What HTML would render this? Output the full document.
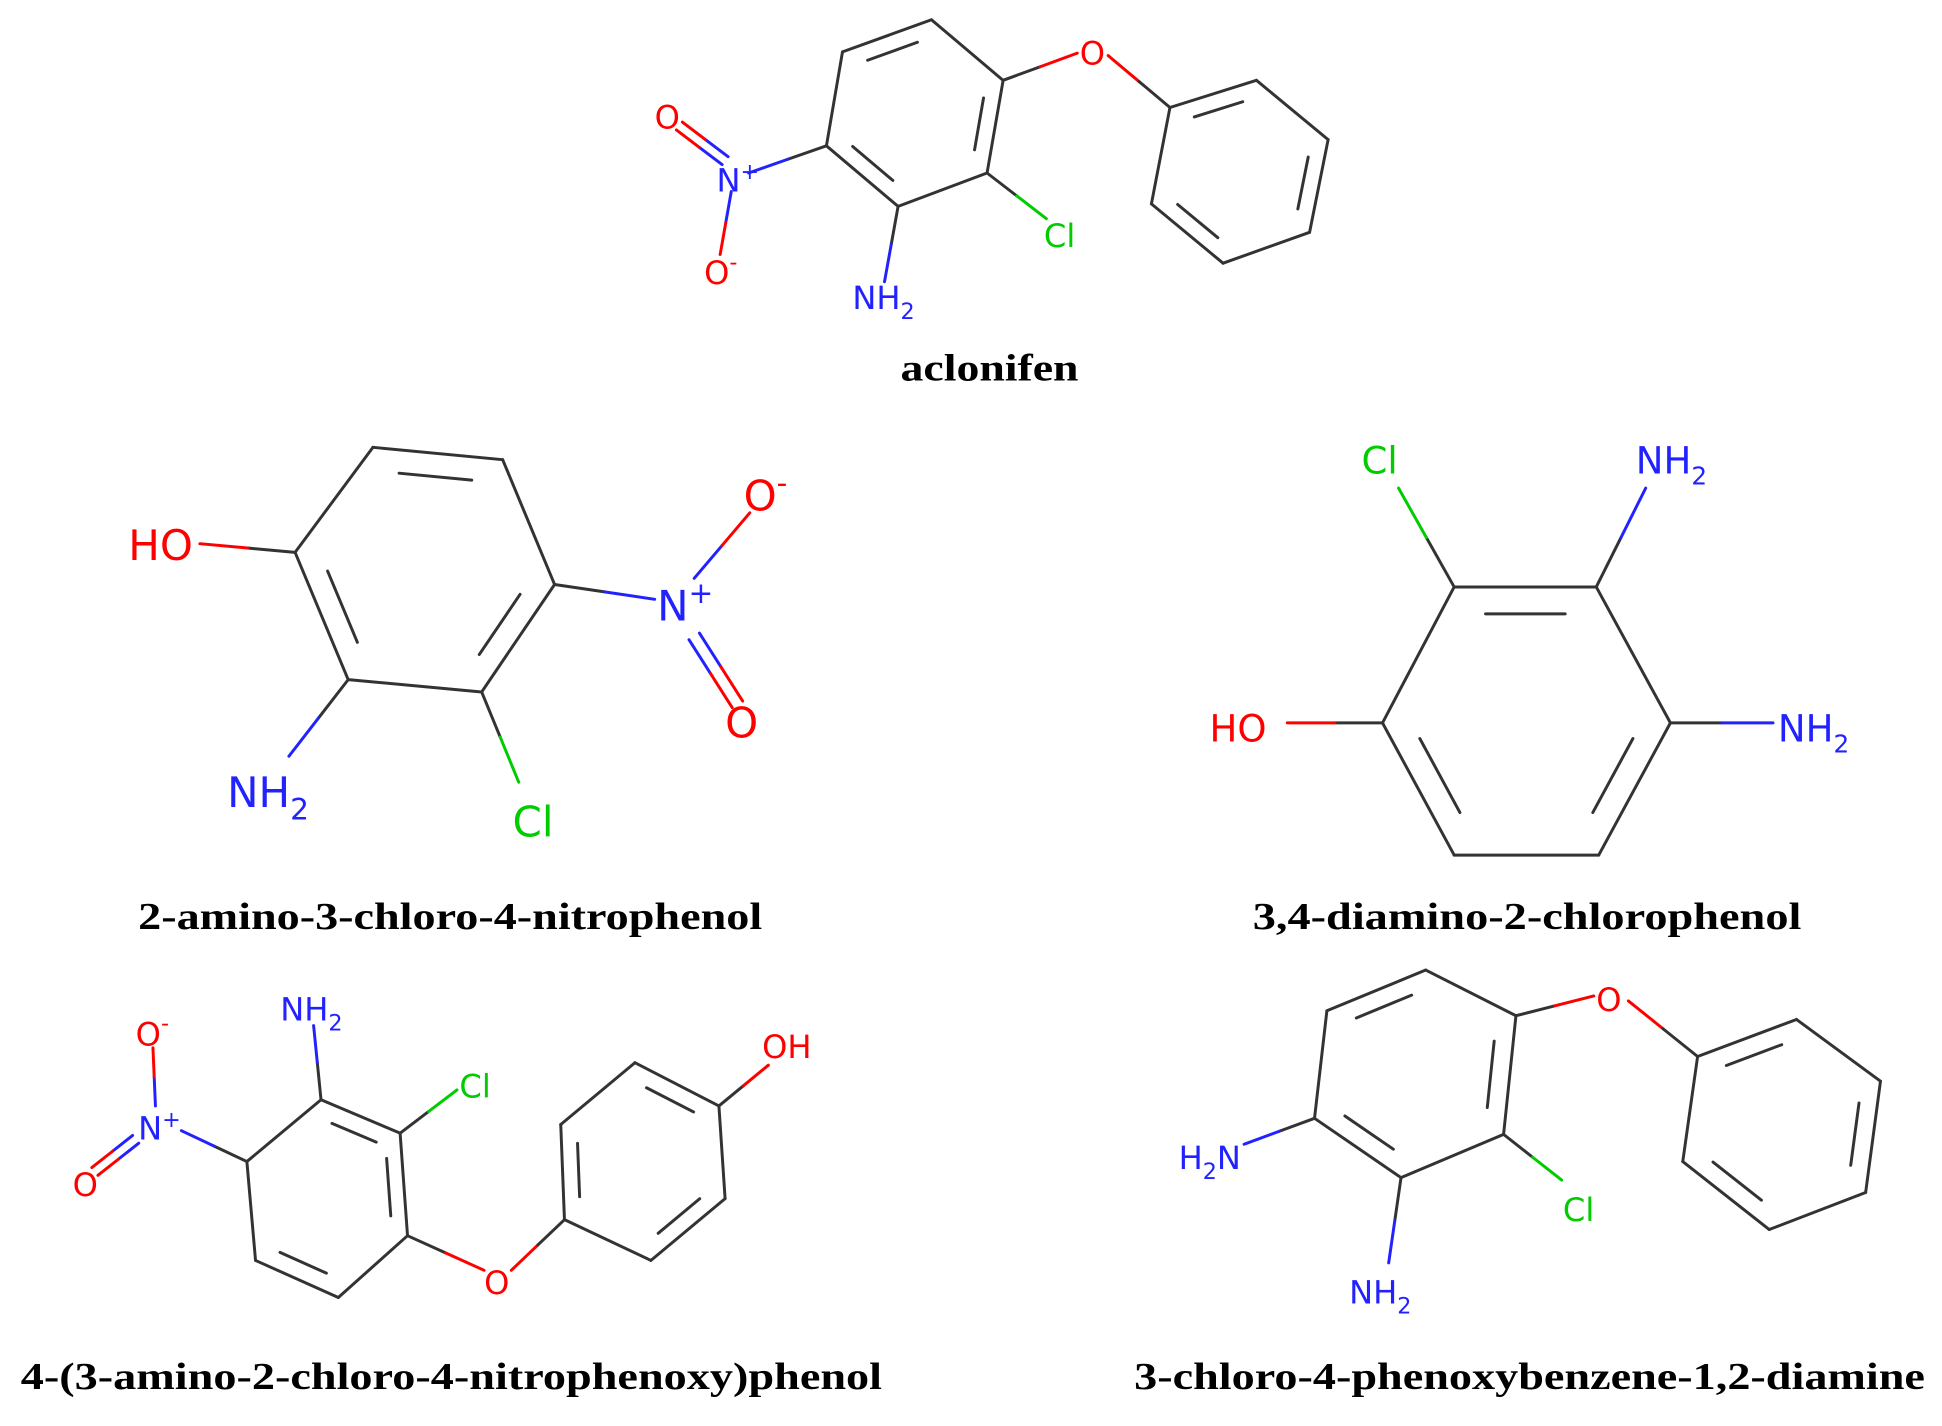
<!DOCTYPE html>
<html><head><meta charset="utf-8"><style>
html,body{margin:0;padding:0;background:#fff;}
svg{display:block}
.l{font-family:"Liberation Serif",serif;font-weight:bold;font-size:31px;fill:#000}
.a{font-family:"DejaVu Sans","Liberation Sans",sans-serif;font-size:26px}
.b{font-family:"DejaVu Sans","Liberation Sans",sans-serif;font-size:34px}
</style></head><body>
<svg id="s" width="1942" height="1426" viewBox="0 0 1568 1154" xmlns="http://www.w3.org/2000/svg">
<g id="bonds" stroke-width="2.4" stroke-linecap="round"></g>
<g class="a">
<text x="528" y="104" fill="#f00">O</text>
<text x="578" y="155" fill="#22f">N<tspan font-size="18" dy="-10">+</tspan></text>
<text x="568" y="230" fill="#f00">O<tspan font-size="18" dy="-12">-</tspan></text>
<text x="688" y="250" fill="#22f">NH<tspan font-size="18" dy="8">2</tspan></text>
<text x="843" y="200" fill="#0c0">Cl</text>
<text x="872" y="52" fill="#f00">O</text>
</g>
<g class="b">
<text x="102" y="453" fill="#f00">HO</text>
<text x="182" y="653" fill="#22f">NH<tspan font-size="24" dy="10">2</tspan></text>
<text x="413" y="677" fill="#0c0">Cl</text>
<text x="530" y="502" fill="#22f">N<tspan font-size="24" dy="-14">+</tspan></text>
<text x="600" y="413" fill="#f00">O<tspan font-size="24" dy="-14">-</tspan></text>
<text x="585" y="597" fill="#f00">O</text>
</g>
<g class="a" font-size="30">
<text x="1100" y="383" fill="#0c0" font-size="30">Cl</text>
<text x="1322" y="383" fill="#22f" font-size="30">NH<tspan font-size="20" dy="9">2</tspan></text>
<text x="1437" y="600" fill="#22f" font-size="30">NH<tspan font-size="20" dy="9">2</tspan></text>
<text x="977" y="600" fill="#f00" font-size="30">HO</text>
</g>
<g class="a">
<text x="225" y="826" fill="#22f">NH<tspan font-size="18" dy="8">2</tspan></text>
<text x="370" y="888" fill="#0c0">Cl</text>
<text x="110" y="922" fill="#22f">N<tspan font-size="18" dy="-10">+</tspan></text>
<text x="108" y="846" fill="#f00">O<tspan font-size="18" dy="-12">-</tspan></text>
<text x="57" y="968" fill="#f00">O</text>
<text x="390" y="1047" fill="#f00">O</text>
<text x="615" y="856" fill="#f00">OH</text>
</g>
<g class="a">
<text x="1290" y="818" fill="#f00">O</text>
<text x="952" y="946" fill="#22f">H<tspan font-size="18" dy="8">2</tspan><tspan dy="-8">N</tspan></text>
<text x="1090" y="1055" fill="#22f">NH<tspan font-size="18" dy="8">2</tspan></text>
<text x="1263" y="988" fill="#0c0">Cl</text>
</g>
<text class="l" x="727" y="308" textLength="144" lengthAdjust="spacingAndGlyphs">aclonifen</text>
<text class="l" x="110" y="752" textLength="505" lengthAdjust="spacingAndGlyphs">2-amino-3-chloro-4-nitrophenol</text>
<text class="l" x="1012" y="752" textLength="444" lengthAdjust="spacingAndGlyphs">3,4-diamino-2-chlorophenol</text>
<text class="l" x="15" y="1124" textLength="697" lengthAdjust="spacingAndGlyphs">4-(3-amino-2-chloro-4-nitrophenoxy)phenol</text>
<text class="l" x="916" y="1124" textLength="640" lengthAdjust="spacingAndGlyphs">3-chloro-4-phenoxybenzene-1,2-diamine</text>
</svg>
<script>
var g=document.getElementById('bonds'),K='#333',R='#f00',B='#22f',G='#0c0';
function ln(a,b,c){var e=document.createElementNS('http://www.w3.org/2000/svg','line');e.setAttribute('x1',a[0]);e.setAttribute('y1',a[1]);e.setAttribute('x2',b[0]);e.setAttribute('y2',b[1]);e.setAttribute('stroke',c);g.appendChild(e);}
function bd(a,b,ca,cb){var m=[(a[0]+b[0])/2,(a[1]+b[1])/2];ln(a,m,ca);ln(m,b,cb||ca);}
function ring(p,inner){var cx=0,cy=0;p.forEach(function(q){cx+=q[0];cy+=q[1]});cx/=6;cy/=6;
for(var i=0;i<6;i++){var a=p[i],b=p[(i+1)%6];ln(a,b,K);
if(inner.indexOf(i)>=0){var f=0.8,s=0.15;var A=[cx+(a[0]-cx)*f,cy+(a[1]-cy)*f],Bq=[cx+(b[0]-cx)*f,cy+(b[1]-cy)*f];
var dx=Bq[0]-A[0],dy=Bq[1]-A[1];ln([A[0]+dx*s,A[1]+dy*s],[Bq[0]-dx*s,Bq[1]-dy*s],K);}}}
function dbl(a,b,ca,cb,o){var dx=b[0]-a[0],dy=b[1]-a[1],L=Math.hypot(dx,dy),nx=-dy/L*o,ny=dx/L*o;
bd([a[0]+nx,a[1]+ny],[b[0]+nx,b[1]+ny],ca,cb);bd([a[0]-nx,a[1]-ny],[b[0]-nx,b[1]-ny],ca,cb);}
// aclonifen
ring([[680,42],[752,16],[810,65],[797,140],[725,167],[667,118]],[0,2,4]);
bd([667,118],[604,140],K,B);bd([725,167],[714,228],K,B);bd([797,140],[845,177],K,G);
bd([810,65],[870,43],K,R);bd([895,45],[945,87],R,K);
ring([[945,87],[1015,65],[1073,113],[1058,188],[988,213],[930,165]],[0,2,4]);
dbl([585,130],[548,102],B,R,4);bd([590,155],[581,206],B,R);
// mol2
ring([[300,362],[405,372],[447,473],[388,560],[280,550],[237,447]],[0,2,4]);
bd([237,447],[160,440],K,R);bd([280,550],[232,612],K,B);bd([388,560],[418,633],K,G);
bd([447,473],[528,485],K,B);bd([560,468],[605,415],B,R);dbl([560,515],[595,570],B,R,5);
// mol3
ring([[1175,475],[1290,475],[1350,585],[1292,692],[1175,692],[1117,585]],[0,2,4]);
bd([1175,475],[1130,395],K,G);bd([1290,475],[1330,395],K,B);bd([1350,585],[1433,585],K,B);bd([1117,585],[1040,585],K,R);
// mol4
ring([[258,890],[322,917],[328,1000],[272,1050],[205,1020],[198,940]],[0,1,3]);
bd([258,890],[252,830],K,B);bd([322,917],[368,882],K,G);bd([198,940],[145,915],K,B);
bd([124,895],[122,848],B,R);dbl([108,922],[75,948],B,R,4);
bd([328,1000],[390,1028],K,R);bd([412,1028],[455,987],R,K);
ring([[455,987],[452,910],[512,860],[580,895],[585,970],[525,1020]],[0,2,4]);
bd([580,895],[620,862],K,R);
// mol5
ring([[1072,818],[1152,785],[1225,822],[1215,918],[1132,953],[1062,905]],[0,2,4]);
bd([1225,822],[1288,806],K,R);bd([1316,810],[1372,855],R,K);
ring([[1372,855],[1452,825],[1520,875],[1508,965],[1430,995],[1360,940]],[0,2,4]);
bd([1062,905],[1005,926],K,B);bd([1132,953],[1122,1022],K,B);bd([1215,918],[1262,955],K,G);
</script>
</body></html>
